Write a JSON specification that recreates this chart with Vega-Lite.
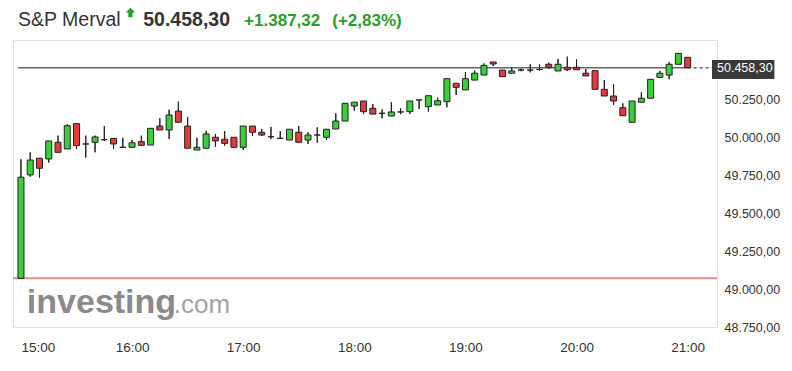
{
  "$schema": "https://vega.github.io/schema/vega-lite/v6.json",
  "width": 704,
  "height": 287,
  "autosize": {"type": "none"},
  "padding": {"left": 13, "top": 40, "right": 75, "bottom": 44},
  "background": "#ffffff",
  "config": {
    "locale": {"number": {"decimal": ",", "thousands": ".", "grouping": [3], "currency": ["", ""]}},
    "view": {"stroke": "#dedede", "strokeWidth": 1},
    "font": "Liberation Sans",
    "axis": {"domain": false, "grid": false, "ticks": false, "tickSize": 0, "labelFont": "Liberation Sans", "labelColor": "#333333", "title": null}
  },
  "datasets": {
    "candles": [
      {"t": "2024-05-20T15:00", "o": 49071, "h": 49855, "l": 49071, "c": 49737},
      {"t": "2024-05-20T15:05", "o": 49752, "h": 49901, "l": 49740, "c": 49850},
      {"t": "2024-05-20T15:10", "o": 49862, "h": 49862, "l": 49734, "c": 49796},
      {"t": "2024-05-20T15:15", "o": 49857, "h": 49976, "l": 49833, "c": 49976},
      {"t": "2024-05-20T15:20", "o": 49967, "h": 50011, "l": 49901, "c": 49901},
      {"t": "2024-05-20T15:25", "o": 49923, "h": 50086, "l": 49923, "c": 50076},
      {"t": "2024-05-20T15:30", "o": 50090, "h": 50090, "l": 49923, "c": 49945},
      {"t": "2024-05-20T15:35", "o": 49956, "h": 50011, "l": 49866, "c": 49956},
      {"t": "2024-05-20T15:40", "o": 49967, "h": 50011, "l": 49901, "c": 50002},
      {"t": "2024-05-20T15:45", "o": 49984, "h": 50074, "l": 49976, "c": 49984},
      {"t": "2024-05-20T15:50", "o": 49993, "h": 49993, "l": 49923, "c": 49956},
      {"t": "2024-05-20T15:55", "o": 49934, "h": 49997, "l": 49934, "c": 49934},
      {"t": "2024-05-20T16:00", "o": 49934, "h": 49982, "l": 49934, "c": 49964},
      {"t": "2024-05-20T16:05", "o": 49971, "h": 50011, "l": 49947, "c": 49947},
      {"t": "2024-05-20T16:10", "o": 49949, "h": 50059, "l": 49949, "c": 50059},
      {"t": "2024-05-20T16:15", "o": 50074, "h": 50125, "l": 50048, "c": 50048},
      {"t": "2024-05-20T16:20", "o": 50048, "h": 50182, "l": 49989, "c": 50147},
      {"t": "2024-05-20T16:25", "o": 50173, "h": 50235, "l": 50099, "c": 50099},
      {"t": "2024-05-20T16:30", "o": 50074, "h": 50134, "l": 49928, "c": 49928},
      {"t": "2024-05-20T16:35", "o": 49916, "h": 49997, "l": 49916, "c": 49934},
      {"t": "2024-05-20T16:40", "o": 49928, "h": 50043, "l": 49928, "c": 50022},
      {"t": "2024-05-20T16:45", "o": 50000, "h": 50022, "l": 49938, "c": 49976},
      {"t": "2024-05-20T16:50", "o": 49987, "h": 50041, "l": 49945, "c": 49960},
      {"t": "2024-05-20T16:55", "o": 50000, "h": 50000, "l": 49934, "c": 49934},
      {"t": "2024-05-20T17:00", "o": 49934, "h": 50074, "l": 49916, "c": 50074},
      {"t": "2024-05-20T17:05", "o": 50074, "h": 50074, "l": 50009, "c": 50033},
      {"t": "2024-05-20T17:10", "o": 50033, "h": 50055, "l": 50009, "c": 50015},
      {"t": "2024-05-20T17:15", "o": 50004, "h": 50068, "l": 49989, "c": 50004},
      {"t": "2024-05-20T17:20", "o": 49993, "h": 50041, "l": 49993, "c": 49993},
      {"t": "2024-05-20T17:25", "o": 49982, "h": 50053, "l": 49982, "c": 50053},
      {"t": "2024-05-20T17:30", "o": 50033, "h": 50074, "l": 49967, "c": 49967},
      {"t": "2024-05-20T17:35", "o": 49982, "h": 50033, "l": 49956, "c": 50015},
      {"t": "2024-05-20T17:40", "o": 50015, "h": 50066, "l": 49964, "c": 50015},
      {"t": "2024-05-20T17:45", "o": 50000, "h": 50053, "l": 49982, "c": 50053},
      {"t": "2024-05-20T17:50", "o": 50055, "h": 50158, "l": 50055, "c": 50107},
      {"t": "2024-05-20T17:55", "o": 50107, "h": 50224, "l": 50107, "c": 50224},
      {"t": "2024-05-20T18:00", "o": 50206, "h": 50231, "l": 50175, "c": 50231},
      {"t": "2024-05-20T18:05", "o": 50239, "h": 50239, "l": 50153, "c": 50169},
      {"t": "2024-05-20T18:10", "o": 50191, "h": 50219, "l": 50153, "c": 50153},
      {"t": "2024-05-20T18:15", "o": 50158, "h": 50184, "l": 50125, "c": 50158},
      {"t": "2024-05-20T18:20", "o": 50140, "h": 50231, "l": 50140, "c": 50167},
      {"t": "2024-05-20T18:25", "o": 50167, "h": 50191, "l": 50152, "c": 50167},
      {"t": "2024-05-20T18:30", "o": 50169, "h": 50239, "l": 50153, "c": 50239},
      {"t": "2024-05-20T18:35", "o": 50246, "h": 50246, "l": 50186, "c": 50246},
      {"t": "2024-05-20T18:40", "o": 50202, "h": 50274, "l": 50169, "c": 50274},
      {"t": "2024-05-20T18:45", "o": 50213, "h": 50261, "l": 50213, "c": 50241},
      {"t": "2024-05-20T18:50", "o": 50235, "h": 50386, "l": 50198, "c": 50386},
      {"t": "2024-05-20T18:55", "o": 50356, "h": 50356, "l": 50279, "c": 50329},
      {"t": "2024-05-20T19:00", "o": 50312, "h": 50430, "l": 50312, "c": 50386},
      {"t": "2024-05-20T19:05", "o": 50377, "h": 50439, "l": 50377, "c": 50422},
      {"t": "2024-05-20T19:10", "o": 50410, "h": 50487, "l": 50410, "c": 50474},
      {"t": "2024-05-20T19:15", "o": 50496, "h": 50496, "l": 50470, "c": 50483},
      {"t": "2024-05-20T19:20", "o": 50443, "h": 50443, "l": 50399, "c": 50399},
      {"t": "2024-05-20T19:25", "o": 50422, "h": 50461, "l": 50422, "c": 50437},
      {"t": "2024-05-20T19:30", "o": 50443, "h": 50452, "l": 50435, "c": 50443},
      {"t": "2024-05-20T19:35", "o": 50443, "h": 50481, "l": 50428, "c": 50443},
      {"t": "2024-05-20T19:40", "o": 50447, "h": 50481, "l": 50439, "c": 50447},
      {"t": "2024-05-20T19:45", "o": 50481, "h": 50491, "l": 50450, "c": 50461},
      {"t": "2024-05-20T19:50", "o": 50437, "h": 50516, "l": 50437, "c": 50481},
      {"t": "2024-05-20T19:55", "o": 50461, "h": 50531, "l": 50437, "c": 50445},
      {"t": "2024-05-20T20:00", "o": 50461, "h": 50514, "l": 50445, "c": 50445},
      {"t": "2024-05-20T20:05", "o": 50422, "h": 50450, "l": 50404, "c": 50404},
      {"t": "2024-05-20T20:10", "o": 50439, "h": 50439, "l": 50316, "c": 50316},
      {"t": "2024-05-20T20:15", "o": 50316, "h": 50377, "l": 50272, "c": 50272},
      {"t": "2024-05-20T20:20", "o": 50272, "h": 50349, "l": 50213, "c": 50239},
      {"t": "2024-05-20T20:25", "o": 50195, "h": 50224, "l": 50142, "c": 50142},
      {"t": "2024-05-20T20:30", "o": 50099, "h": 50239, "l": 50099, "c": 50239},
      {"t": "2024-05-20T20:35", "o": 50231, "h": 50296, "l": 50231, "c": 50257},
      {"t": "2024-05-20T20:40", "o": 50257, "h": 50382, "l": 50257, "c": 50382},
      {"t": "2024-05-20T20:45", "o": 50395, "h": 50437, "l": 50395, "c": 50422},
      {"t": "2024-05-20T20:50", "o": 50410, "h": 50494, "l": 50382, "c": 50481},
      {"t": "2024-05-20T20:55", "o": 50481, "h": 50553, "l": 50481, "c": 50553},
      {"t": "2024-05-20T21:00", "o": 50527, "h": 50527, "l": 50458.3, "c": 50458.3}
    ]
  },
  "layer": [
    {
      "data": {"name": "candles"},
      "mark": {"type": "rule", "color": "#1f1f1f", "strokeWidth": 1},
      "encoding": {
        "x": {
          "field": "t", "type": "temporal", "title": null,
          "scale": {"domain": [{"year": 2024, "month": 5, "date": 20, "hours": 14, "minutes": 58, "seconds": 24}, {"year": 2024, "month": 5, "date": 20, "hours": 21, "minutes": 13, "seconds": 9}], "nice": false},
          "axis": {
            "format": "%H:%M",
            "values": [
              {"year": 2024, "month": 5, "date": 20, "hours": 15},
              {"year": 2024, "month": 5, "date": 20, "hours": 16},
              {"year": 2024, "month": 5, "date": 20, "hours": 17},
              {"year": 2024, "month": 5, "date": 20, "hours": 18},
              {"year": 2024, "month": 5, "date": 20, "hours": 19},
              {"year": 2024, "month": 5, "date": 20, "hours": 20},
              {"year": 2024, "month": 5, "date": 20, "hours": 21}
            ],
            "labelFontSize": 13.5,
            "labelPadding": 13,
            "labelFlush": false,
            "labelAlign": {"condition": {"test": "hours(datum.value) == 15", "value": "left"}, "value": "center"},
            "labelColor": "#333333"
          }
        },
        "y": {
          "field": "l", "type": "quantitative", "title": null,
          "scale": {"domain": [48750, 50641], "nice": false, "zero": false},
          "axis": {
            "orient": "right",
            "format": ",.2f",
            "values": [48750, 49000, 49250, 49500, 49750, 50000, 50250],
            "labelFontSize": 12.5,
            "labelPadding": 7,
            "labelColor": "#333333"
          }
        },
        "y2": {"field": "h"}
      }
    },
    {
      "data": {"values": [{}]},
      "mark": {"type": "rule", "color": "#df8b8b", "strokeWidth": 2},
      "encoding": {
        "y": {"datum": 49070.98, "type": "quantitative"}
      }
    },
    {
      "data": {"values": [{}]},
      "mark": {"type": "rule", "color": "#666666", "strokeWidth": 1.5},
      "encoding": {
        "x": {"datum": {"year": 2024, "month": 5, "date": 20, "hours": 14, "minutes": 58, "seconds": 24}, "type": "temporal"},
        "x2": {"datum": {"year": 2024, "month": 5, "date": 20, "hours": 21, "minutes": 0}},
        "y": {"datum": 50458.3, "type": "quantitative"}
      }
    },
    {
      "data": {"values": [{}]},
      "mark": {"type": "rule", "color": "#666666", "strokeWidth": 1.5, "strokeDash": [3, 3]},
      "encoding": {
        "x": {"datum": {"year": 2024, "month": 5, "date": 20, "hours": 21, "minutes": 0}, "type": "temporal"},
        "x2": {"datum": {"year": 2024, "month": 5, "date": 20, "hours": 21, "minutes": 13, "seconds": 9}},
        "y": {"datum": 50458.3, "type": "quantitative"}
      }
    },
    {
      "data": {"name": "candles"},
      "mark": {"type": "rule", "color": "#1f1f1f", "strokeWidth": 1},
      "encoding": {
        "x": {"field": "t", "type": "temporal", "title": null},
        "y": {"field": "l", "type": "quantitative", "title": null},
        "y2": {"field": "h"}
      }
    },
    {
      "data": {"name": "candles"},
      "mark": {"type": "bar", "size": 6, "stroke": "#222222", "strokeWidth": 1},
      "encoding": {
        "x": {"field": "t", "type": "temporal", "title": null},
        "y": {"field": "o", "type": "quantitative", "title": null},
        "y2": {"field": "c"},
        "fill": {
          "condition": [
            {"test": "datum.c > datum.o", "value": "#38cf38"},
            {"test": "datum.c < datum.o", "value": "#e6393b"}
          ],
          "value": "#222222"
        }
      }
    },
    {
      "data": {"values": [{}]},
      "mark": {"type": "rect", "color": "#3a3a3a"},
      "encoding": {
        "x": {"datum": {"year": 2024, "month": 5, "date": 20, "hours": 21, "minutes": 13, "seconds": 9}, "type": "temporal"},
        "x2": {"datum": {"year": 2024, "month": 5, "date": 20, "hours": 21, "minutes": 46, "seconds": 50}},
        "y": {"datum": 50509, "type": "quantitative"},
        "y2": {"datum": 50384}
      }
    },
    {
      "data": {"values": [{}]},
      "mark": {"type": "text", "text": "50.458,30", "color": "#ffffff", "fontSize": 12.5, "align": "left", "baseline": "middle", "dx": 5, "font": "Liberation Sans"},
      "encoding": {
        "x": {"datum": {"year": 2024, "month": 5, "date": 20, "hours": 21, "minutes": 13, "seconds": 9}, "type": "temporal"},
        "y": {"datum": 50458.3, "type": "quantitative"}
      }
    },
    {
      "data": {"values": [{}]},
      "mark": {"type": "text", "text": "S&P Merval", "color": "#333333", "fontSize": 19.5, "align": "left", "baseline": "alphabetic", "font": "Liberation Sans"},
      "encoding": {
        "x": {"datum": {"year": 2024, "month": 5, "date": 20, "hours": 14, "minutes": 58, "seconds": 24}, "type": "temporal"},
        "y": {"datum": 50733, "type": "quantitative"}
      }
    },
    {
      "data": {"values": [{}]},
      "mark": {"type": "point", "shape": "M0,-1L1,0L0.45,0L0.45,1L-0.45,1L-0.45,0L-1,0Z", "filled": true, "color": "#2a9d2a", "size": 90, "opacity": 1},
      "encoding": {
        "x": {"datum": {"year": 2024, "month": 5, "date": 20, "hours": 15, "minutes": 59, "seconds": 6}, "type": "temporal"},
        "y": {"datum": 50822, "type": "quantitative"}
      }
    },
    {
      "data": {"values": [{}]},
      "mark": {"type": "text", "text": "50.458,30", "color": "#333333", "fontSize": 19.5, "fontWeight": "bold", "align": "left", "baseline": "alphabetic", "font": "Liberation Sans"},
      "encoding": {
        "x": {"datum": {"year": 2024, "month": 5, "date": 20, "hours": 16, "minutes": 6, "seconds": 2}, "type": "temporal"},
        "y": {"datum": 50733, "type": "quantitative"}
      }
    },
    {
      "data": {"values": [{}]},
      "mark": {"type": "text", "text": "+1.387,32", "color": "#2a9d2a", "fontSize": 17, "fontWeight": "bold", "align": "left", "baseline": "alphabetic", "font": "Liberation Sans"},
      "encoding": {
        "x": {"datum": {"year": 2024, "month": 5, "date": 20, "hours": 17, "minutes": 0, "seconds": 30}, "type": "temporal"},
        "y": {"datum": 50733, "type": "quantitative"}
      }
    },
    {
      "data": {"values": [{}]},
      "mark": {"type": "text", "text": "(+2,83%)", "color": "#2a9d2a", "fontSize": 17, "fontWeight": "bold", "align": "left", "baseline": "alphabetic", "font": "Liberation Sans"},
      "encoding": {
        "x": {"datum": {"year": 2024, "month": 5, "date": 20, "hours": 17, "minutes": 48, "seconds": 6}, "type": "temporal"},
        "y": {"datum": 50733, "type": "quantitative"}
      }
    },
    {
      "data": {"values": [{}]},
      "mark": {"type": "text", "text": "investing", "color": "#8a8a8a", "fontSize": 34, "fontWeight": "bold", "align": "left", "baseline": "alphabetic", "font": "Liberation Sans"},
      "encoding": {
        "x": {"datum": {"year": 2024, "month": 5, "date": 20, "hours": 15, "minutes": 3, "seconds": 11}, "type": "temporal"},
        "y": {"datum": 48840, "type": "quantitative"}
      }
    },
    {
      "data": {"values": [{}]},
      "mark": {"type": "text", "text": ".com", "color": "#a3a3a3", "fontSize": 26, "align": "left", "baseline": "alphabetic", "font": "Liberation Sans"},
      "encoding": {
        "x": {"datum": {"year": 2024, "month": 5, "date": 20, "hours": 16, "minutes": 22, "seconds": 30}, "type": "temporal"},
        "y": {"datum": 48840, "type": "quantitative"}
      }
    }
  ]
}
